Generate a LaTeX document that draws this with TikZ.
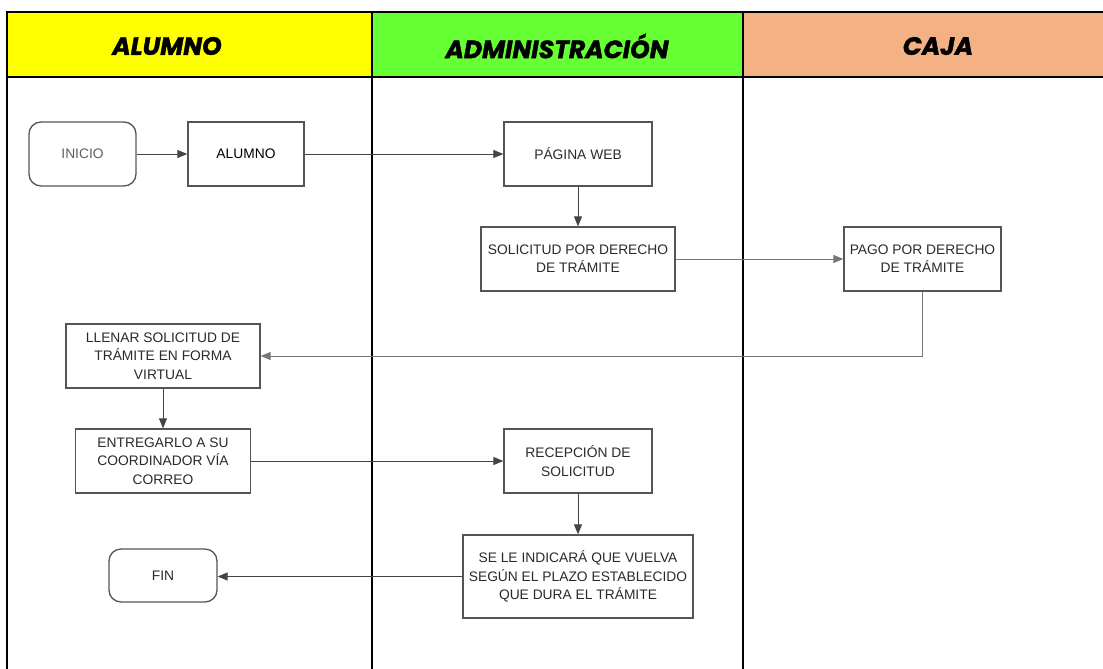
\documentclass[tikz,border=0pt]{standalone}
\usepackage{fontspec}
\setmainfont{Liberation Sans}
\newfontfamily\hdrfont{Poppins}[BoldItalicFeatures={FakeBold=1.6}]
\usetikzlibrary{arrows.meta}
\definecolor{hyellow}{HTML}{FFFF00}
\definecolor{hgreen}{HTML}{66FF33}
\definecolor{hsalmon}{HTML}{F4B183}
\definecolor{boxline}{HTML}{555555}
\definecolor{txt}{HTML}{2A2A2A}
\definecolor{conn}{HTML}{444444}
\definecolor{connlight}{HTML}{777777}
\tikzset{
  procbox/.style={draw=boxline, line width=1.3pt, fill=white, align=center, inner sep=2pt,
    text=txt, font=\fontsize{13.8}{18.3}\selectfont},
  termbox/.style={procbox, rounded corners=12pt},
  flow/.style={draw=conn, line width=1pt, -{Triangle[length=10pt,width=8pt]}},
  flowlight/.style={flow, draw=connlight},
  lanehdr/.style={font=\hdrfont\fontsize{25}{27}\selectfont\bfseries\itshape, text=black},
  frame/.style={line width=2.6pt, draw=black}
}
\begin{document}
\begin{tikzpicture}[x=1pt,y=-1pt]
\useasboundingbox (0,0) rectangle (1103,669);
% header fills
\fill[hyellow] (7,12) rectangle (372,77);
\fill[hgreen] (372,12) rectangle (743,77);
\fill[hsalmon] (743,12) rectangle (1110,77);
% frame
\draw[frame] (1110,12) -- (7,12) -- (7,672);
\draw[frame] (7,77) -- (1110,77);
\draw[frame] (372,12) -- (372,672);
\draw[frame] (743,12) -- (743,672);
% header texts
\node[lanehdr] (h1) at (167,46) {ALUMNO};
\node[lanehdr] (h2) at (557,46) {ADMINISTRACIÓN};
\node[lanehdr] (h3) at (938,46) {CAJA};
% nodes
\node[termbox, minimum width=107pt, minimum height=64pt, text=txt!75] (inicio) at (82.5,154) {INICIO};
\node[procbox, minimum width=116pt, minimum height=64pt, text=black] (alumno) at (246,154) {ALUMNO};
\node[procbox, minimum width=148pt, minimum height=64pt] (pagina) at (578,154) {PÁGINA WEB};
\node[procbox, minimum width=194pt, minimum height=64pt] (solicitud) at (578,259) {SOLICITUD POR DERECHO\\DE TRÁMITE};
\node[procbox, minimum width=157pt, minimum height=64pt] (pago) at (922.5,259) {PAGO POR DERECHO\\DE TRÁMITE};
\node[procbox, minimum width=194pt, minimum height=64pt] (llenar) at (163,356) {LLENAR SOLICITUD DE\\TRÁMITE EN FORMA\\VIRTUAL};
\node[procbox, minimum width=175pt, minimum height=64pt] (entregar) at (163,461) {ENTREGARLO A SU\\COORDINADOR VÍA\\CORREO};
\node[procbox, minimum width=148pt, minimum height=64pt] (recepcion) at (578,461) {RECEPCIÓN DE\\SOLICITUD};
\node[procbox, minimum width=230pt, minimum height=83pt] (sele) at (578,576.5) {SE LE INDICARÁ QUE VUELVA\\SEGÚN EL PLAZO ESTABLECIDO\\QUE DURA EL TRÁMITE};
\node[termbox, minimum width=108pt, minimum height=53pt] (fin) at (163,575.5) {FIN};
% connectors
\draw[flow] (inicio) -- (alumno);
\draw[flow] (alumno) -- (pagina);
\draw[flow] (pagina) -- (solicitud);
\draw[flowlight] (solicitud) -- (pago);
\draw[flowlight] (pago.south) |- (llenar.east);
\draw[flow] (llenar) -- (entregar);
\draw[flow] (entregar) -- (recepcion);
\draw[flow] (recepcion) -- (sele);
\draw[flow] (sele.west) -- (fin.east |- sele.west);
\end{tikzpicture}
\end{document}
